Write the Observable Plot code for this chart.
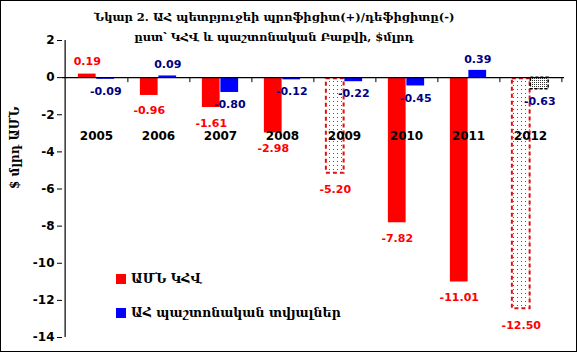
<!DOCTYPE html>
<html>
<head>
<meta charset="utf-8">
<script src="https://cdn.jsdelivr.net/npm/d3@7"></script>
<script src="https://cdn.jsdelivr.net/npm/@observablehq/plot@0.6"></script>
<style>
  html, body { margin: 0; padding: 0; background: #fff; }
  #wrap { position: relative; width: 577px; height: 352px; overflow: hidden; }
  #wrap svg { position: absolute; left: 0; top: 0; }
  #border { position: absolute; left: 0; top: 0; width: 577px; height: 352px; box-sizing: border-box; border: 1px solid #000; pointer-events: none; }
  #title { position: absolute; left: 24px; width: 500px; top: 7px; text-align: center; white-space: nowrap;
           font-family: "DejaVu Serif", serif; font-weight: bold; font-size: 11.5px; line-height: 20px; color: #000; }
  .leg { position: absolute; left: 116px; font-family: "DejaVu Serif", serif; font-weight: bold; font-size: 12.5px; color: #000; display: flex; align-items: center; white-space: nowrap; }
  .leg span.sw { display: inline-block; width: 10px; height: 10px; margin-right: 5px; }
</style>
</head>
<body>
<div id="wrap">
  <div id="title"></div>
  <div id="border"></div>
</div>
<script>
const titleLines = ["Նկար 2. ԱՀ պետբյուջեի պրոֆիցիտ(+)/դեֆիցիտը(-)", "ըստ՝ ԿՀՎ և պաշտոնական Բաքվի, $մլրդ"];
const yLabel = "$ մլրդ ԱՄՆ";
const years = ["2005", "2006", "2007", "2008", "2009", "2010", "2011", "2012"];
const seriesNames = ["ԱՄՆ ԿՀՎ", "ԱՀ պաշտոնական տվյալներ"];
const usaValues = [0.19, -0.96, -1.61, -2.98, -5.20, -7.82, -11.01, -12.50];
const armValues = [-0.09, 0.09, -0.80, -0.12, -0.22, -0.45, 0.39, -0.63];
const usaForecast = [false, false, false, false, true, false, false, true];
const armForecast = [false, false, false, false, false, false, false, true];
const yTicks = [2, 0, -2, -4, -6, -8, -10, -12, -14];
const seriesColors = ["#FF0000", "#0000FF"];
const labelColors = ["#FF0000", "#000080"];

const W = 577, H = 352, ML = 62, MR = 13, MT = 40, MB = 15;
const BW = (W - ML - MR) / years.length;
const barW = 18.5;
const outer = (BW - 2 * barW) / 2;

const usaRows = years.map((year, i) => ({year, value: usaValues[i], forecast: usaForecast[i]}));
const armRows = years.map((year, i) => ({year, value: armValues[i], forecast: armForecast[i]}));

document.getElementById("title").innerHTML = titleLines.map(t => `<div>${t}</div>`).join("");

const redInset = {insetLeft: outer, insetRight: BW - outer - barW};
const blueInset = {insetLeft: outer + barW, insetRight: outer};

const chart = Plot.plot({
  width: W, height: H,
  marginLeft: ML, marginRight: MR, marginTop: MT, marginBottom: MB,
  style: {fontFamily: "DejaVu Sans", fontWeight: "bold", fontSize: "12px", background: "transparent", overflow: "visible"},
  x: {domain: years, padding: 0, axis: null},
  y: {domain: [-14, 2], axis: null},
  marks: [
    Plot.barY(usaRows.filter(d => !d.forecast), {x: "year", y: "value", fill: seriesColors[0], ...redInset}),
    Plot.barY(usaRows.filter(d => d.forecast), {x: "year", y: "value", fill: "url(#dotsRed)", stroke: "#E01010", strokeWidth: 2, strokeDasharray: "4,3", ...redInset, insetTop: 1, insetBottom: 1}),
    Plot.barY(armRows.filter(d => !d.forecast), {x: "year", y: "value", fill: seriesColors[1], ...blueInset}),
    Plot.barY(armRows.filter(d => d.forecast), {x: "year", y: "value", fill: "url(#dotsBlue)", stroke: "#000", strokeWidth: 1.5, strokeDasharray: "3,2", ...blueInset}),
    Plot.ruleY([0], {stroke: "#000", strokeWidth: 1.2}),
    Plot.ruleX(years, {x: d => d, y1: 0, y2: -0.27, dx: BW / 2, stroke: "#000"}),
    Plot.ruleX([years[0]], {x: d => d, dx: -BW / 2, stroke: "#000", strokeWidth: 1.2}),
    Plot.axisY({ticks: yTicks, tickFormat: d => String(d), tickSize: 5, tickPadding: 3, fontSize: 12, fontWeight: "bold", label: null}),
    Plot.text([yLabel], {frameAnchor: "left", dx: -47, rotate: -90, fontFamily: "DejaVu Serif", fontSize: 12, fontWeight: "bold", fill: "#000"}),
    Plot.text(years, {x: d => d, frameAnchor: "top", dy: 91, fontSize: 12, fontWeight: "bold", fill: "#000"}),
    Plot.text(usaRows.filter(d => d.value >= 0), {x: "year", y: "value", text: d => d.value.toFixed(2), dx: -(barW / 2), dy: -13, fontSize: 11, fill: labelColors[0]}),
    Plot.text(usaRows.filter(d => d.value < 0), {x: "year", y: "value", text: d => d.value.toFixed(2), dx: -(barW / 2), dy: 15.5, fontSize: 11, fill: labelColors[0]}),
    Plot.text(armRows.filter(d => d.value >= 0), {x: "year", y: "value", text: d => d.value.toFixed(2), dx: barW / 2, dy: -11, fontSize: 11, fill: labelColors[1]}),
    Plot.text(armRows.filter(d => d.value < 0), {x: "year", y: "value", text: d => d.value.toFixed(2), dx: barW / 2, dy: 12, fontSize: 11, fill: labelColors[1]})
  ]
});

const ns = "http://www.w3.org/2000/svg";
const defs = document.createElementNS(ns, "defs");
defs.innerHTML = `
  <pattern id="dotsRed" width="4" height="4" patternUnits="userSpaceOnUse">
    <rect width="4" height="4" fill="#fff"/>
    <rect x="1" y="1" width="1" height="1" fill="#D02020"/>
  </pattern>
  <pattern id="dotsBlue" width="2" height="2" patternUnits="userSpaceOnUse">
    <rect width="2" height="2" fill="#fff"/>
    <rect x="0" y="0" width="1" height="1" fill="#333"/>
  </pattern>`;
chart.insertBefore(defs, chart.firstChild);

const wrap = document.getElementById("wrap");
wrap.insertBefore(chart, wrap.firstChild);

const legTops = [271, 305];
seriesNames.forEach((name, i) => {
  const el = document.createElement("div");
  el.className = "leg";
  el.style.top = legTops[i] + "px";
  el.innerHTML = `<span class="sw" style="background:${seriesColors[i]}"></span><span>${name}</span>`;
  wrap.appendChild(el);
});
</script>
</body>
</html>
